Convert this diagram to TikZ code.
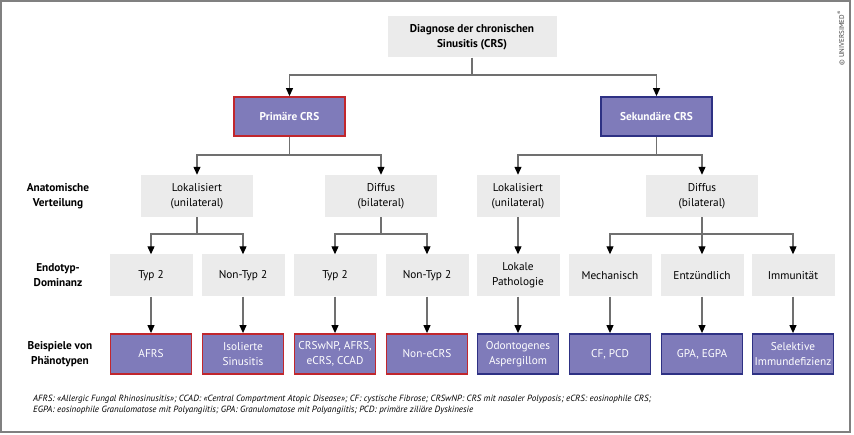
\documentclass[tikz,border=0pt]{standalone}
\usepackage{fontspec}
\setmainfont{PT Sans}
\usetikzlibrary{arrows.meta}
\definecolor{boxgray}{HTML}{EBEBEB}
\definecolor{phenopurple}{HTML}{7F7BBA}
\definecolor{primred}{HTML}{C1272D}
\definecolor{sekblue}{HTML}{2E3184}
\definecolor{linegray}{HTML}{707070}
\begin{document}
\begin{tikzpicture}[x=1pt, y=-1pt,
	greybox/.style={rectangle, fill=boxgray, inner sep=0pt, minimum width=83pt, minimum height=42pt, align=center, font=\fontsize{11.3}{15}\selectfont},
	widebox/.style={greybox, minimum width=112pt},
	phenobox/.style={rectangle, fill=phenopurple, line width=1.8pt, inner sep=0pt, minimum width=81pt, minimum height=40pt, align=center, text=white, font=\fontsize{11.3}{15}\selectfont},
	primbox/.style={phenobox, draw=primred},
	sekbox/.style={phenobox, draw=sekblue},
	rowlabel/.style={align=center, font=\bfseries\fontsize{11.3}{15}\selectfont},
	conn/.style={draw=linegray, line width=1.1pt},
	arr/.style={conn, -{Triangle[length=8pt, width=7pt, color=black]}}
	]
	\useasboundingbox (0,0) rectangle (854,435);
	\draw[gray, line width=1.5pt] (1,1) rectangle (850,432);

	% top levels
	\node[greybox, minimum width=169pt, minimum height=41pt, font=\bfseries\fontsize{11.3}{15}\selectfont] (diag) at (472,37) {Diagnose der chronischen\\Sinusitis (CRS)};
	\node[primbox, minimum width=111pt, minimum height=39pt, font=\bfseries\fontsize{11.3}{15}\selectfont] (prim) at (289.5,116.5) {Primäre CRS};
	\node[sekbox, minimum width=111pt, minimum height=39pt, font=\bfseries\fontsize{11.3}{15}\selectfont] (sek) at (656.5,116.5) {Sekundäre CRS};

	\draw[conn] (diag.south) -- (472,75) coordinate (j0);
	\draw[arr] (j0) -| (prim.north);
	\draw[arr] (j0) -| (sek.north);

	% anatomische verteilung
	\node[widebox] (lokL) at (197,196) {Lokalisiert\\(unilateral)};
	\node[widebox] (difL) at (381,196) {Diffus\\(bilateral)};
	\node[greybox] (lokR) at (518,196) {Lokalisiert\\(unilateral)};
	\node[widebox] (difR) at (702,196) {Diffus\\(bilateral)};

	\draw[conn] (prim.south) -- (289.5,155) coordinate (j1);
	\draw[arr] (j1) -| (lokL.north);
	\draw[arr] (j1) -| (difL.north);
	\draw[conn] (sek.south) -- (656.5,155) coordinate (j2);
	\draw[arr] (j2) -| (lokR.north);
	\draw[arr] (j2) -| (difR.north);

	% endotyp
	\node[greybox] (e1) at (151,275.5) {Typ 2};
	\node[greybox] (e2) at (243,275.5) {Non-Typ 2};
	\node[greybox] (e3) at (335,275.5) {Typ 2};
	\node[greybox] (e4) at (427,275.5) {Non-Typ 2};
	\node[greybox] (e5) at (518,275.5) {Lokale\\Pathologie};
	\node[greybox] (e6) at (610,275.5) {Mechanisch};
	\node[greybox] (e7) at (702,275.5) {Entzündlich};
	\node[greybox] (e8) at (793,275.5) {Immunität};

	\draw[conn] (lokL.south) -- (197,234) coordinate (j3);
	\draw[arr] (j3) -| (e1.north);
	\draw[arr] (j3) -| (e2.north);
	\draw[conn] (difL.south) -- (381,234) coordinate (j4);
	\draw[arr] (j4) -| (e3.north);
	\draw[arr] (j4) -| (e4.north);
	\draw[arr] (lokR.south) -- (e5.north);
	\draw[conn] (difR.south) -- (702,234) coordinate (j5);
	\draw[arr] (j5) -| (e6.north);
	\draw[arr] (j5) -- (e7.north);
	\draw[arr] (j5) -| (e8.north);

	% phaenotypen
	\node[primbox] (p1) at (151,354) {AFRS};
	\node[primbox] (p2) at (243,354) {Isolierte\\Sinusitis};
	\node[primbox] (p3) at (335,354) {CRSwNP, AFRS,\\eCRS, CCAD};
	\node[primbox] (p4) at (427,354) {Non-eCRS};
	\node[sekbox] (p5) at (518,354) {Odontogenes\\Aspergillom};
	\node[sekbox] (p6) at (610,354) {CF, PCD};
	\node[sekbox] (p7) at (702,354) {GPA, EGPA};
	\node[sekbox] (p8) at (793,354) {Selektive\\Immundefizienz};

	\foreach \i in {1,...,8}
		\draw[arr] (e\i.south) -- (p\i.north);

	% zeilen
	\node[rowlabel] (r1) at (58,196) {Anatomische\\Verteilung};
	\node[rowlabel] (r2) at (58,275.5) {Endotyp-\\Dominanz};
	\node[rowlabel] (r3) at (60,354) {Beispiele von\\Phänotypen};

	\node[anchor=base west, font=\itshape\fontsize{9}{10}\selectfont, inner sep=0pt] (fn1) at (33,402) {AFRS: «Allergic Fungal Rhinosinusitis»; CCAD: «Central Compartment Atopic Disease»; CF: cystische Fibrose; CRSwNP: CRS mit nasaler Polyposis; eCRS: eosinophile CRS;};
	\node[anchor=base west, font=\itshape\fontsize{9}{10}\selectfont, inner sep=0pt] (fn2) at (33,413) {EGPA: eosinophile Granulomatose mit Polyangiitis; GPA: Granulomatose mit Polyangiitis; PCD: primäre ziliäre Dyskinesie};

	\node[rotate=90, text=darkgray, font=\fontsize{7}{8}\selectfont] (copy) at (841,38) {© UNIVERSIMED\textsuperscript{®}};
\end{tikzpicture}
\end{document}
